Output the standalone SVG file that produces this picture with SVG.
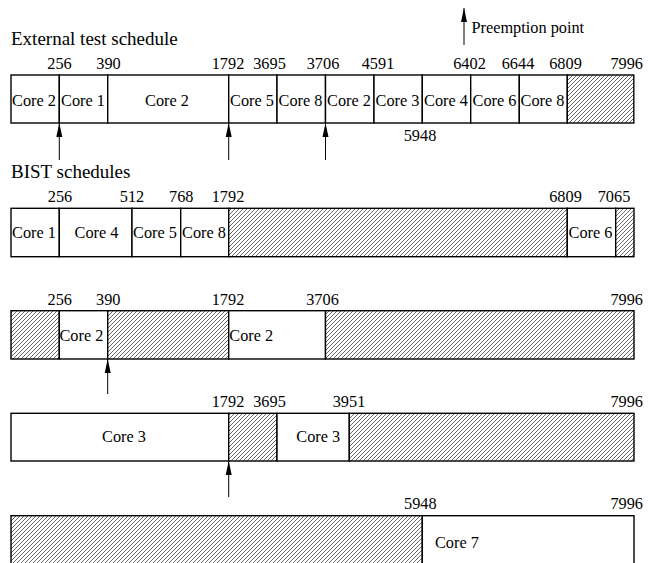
<svg xmlns="http://www.w3.org/2000/svg" width="650" height="563" viewBox="0 0 650 563" font-family="Liberation Serif, Times New Roman, DejaVu Serif, serif">
<style>
text{fill:#000}
.lbl{font-size:16.3px}
.num{font-size:16.3px;text-anchor:middle}
.core{font-size:16.3px;text-anchor:middle}
.head{font-size:19px}
.seg{fill:#fff;stroke:#000;stroke-width:1.4}
.hatch{fill:url(#hp);stroke:#000;stroke-width:1.4}
.arr{stroke:#000;stroke-width:1;fill:none;marker-end:url(#ah)}
</style>
<defs>
<pattern id="hp" patternUnits="userSpaceOnUse" width="4" height="4">
<rect width="4" height="4" fill="#fff"/>
<path d="M-1,1 L1,-1 M0,4 L4,0 M3,5 L5,3" stroke="#444" stroke-width="0.8"/>
</pattern>
<marker id="ah" markerUnits="userSpaceOnUse" markerWidth="14" markerHeight="8" viewBox="0 0 14 8" refX="14" refY="4" orient="auto">
<path d="M0,1 L14,4 L0,7 z" fill="#000"/>
</marker>
</defs>

<g id="legend">
<line class="arr" x1="464" y1="45" x2="464" y2="8"/>
<text class="lbl" x="471.5" y="32.5">Preemption point</text>
</g>

<g id="external">
<text class="head" x="11" y="45">External test schedule</text>
<g id="ext-nums">
<text class="num" x="59.5" y="69">256</text>
<text class="num" x="108.5" y="69">390</text>
<text class="num" x="228" y="69">1792</text>
<text class="num" x="269.5" y="69">3695</text>
<text class="num" x="323" y="69">3706</text>
<text class="num" x="378" y="69">4591</text>
<text class="num" x="469.5" y="69">6402</text>
<text class="num" x="518" y="69">6644</text>
<text class="num" x="565.5" y="69">6809</text>
<text class="num" x="626.7" y="69">7996</text>
<text class="num" x="420" y="141">5948</text>
</g>
<g id="e1"><rect class="seg" x="11" y="75" width="48.3" height="48"/><text class="core" x="34" y="105.5">Core 2</text></g>
<g id="e2"><rect class="seg" x="59.3" y="75" width="48.4" height="48"/><text class="core" x="83" y="105.5">Core 1</text></g>
<g id="e3"><rect class="seg" x="107.7" y="75" width="121" height="48"/><text class="core" x="167" y="105.5">Core 2</text></g>
<g id="e4"><rect class="seg" x="228.7" y="75" width="48.3" height="48"/><text class="core" x="252" y="105.5">Core 5</text></g>
<g id="e5"><rect class="seg" x="277" y="75" width="48.5" height="48"/><text class="core" x="300.5" y="105.5">Core 8</text></g>
<g id="e6"><rect class="seg" x="325.5" y="75" width="48.5" height="48"/><text class="core" x="349" y="105.5">Core 2</text></g>
<g id="e7"><rect class="seg" x="374" y="75" width="48.3" height="48"/><text class="core" x="397.5" y="105.5">Core 3</text></g>
<g id="e8"><rect class="seg" x="422.3" y="75" width="48.4" height="48"/><text class="core" x="446" y="105.5">Core 4</text></g>
<g id="e9"><rect class="seg" x="470.7" y="75" width="48.6" height="48"/><text class="core" x="494.5" y="105.5">Core 6</text></g>
<g id="e10"><rect class="seg" x="519.3" y="75" width="48" height="48"/><text class="core" x="542.5" y="105.5">Core 8</text></g>
<g id="e11"><rect class="hatch" x="567.3" y="75" width="66.5" height="48"/></g>
</g>

<g id="bist1">
<text class="head" x="11" y="178">BIST schedules</text>
<text class="num" x="60" y="201.5">256</text>
<text class="num" x="132" y="201.5">512</text>
<text class="num" x="181.3" y="201.5">768</text>
<text class="num" x="228" y="201.5">1792</text>
<text class="num" x="565.5" y="201.5">6809</text>
<text class="num" x="614" y="201.5">7065</text>
<g id="b1-1"><rect class="seg" x="11" y="208.3" width="48.3" height="48.4"/><text class="core" x="34" y="237.5">Core 1</text></g>
<g id="b1-2"><rect class="seg" x="59.3" y="208.3" width="72.7" height="48.4"/><text class="core" x="96.5" y="237.5">Core 4</text></g>
<g id="b1-3"><rect class="seg" x="132" y="208.3" width="48.7" height="48.4"/><text class="core" x="155" y="237.5">Core 5</text></g>
<g id="b1-4"><rect class="seg" x="180.7" y="208.3" width="48" height="48.4"/><text class="core" x="204" y="237.5">Core 8</text></g>
<g id="b1-5"><rect class="hatch" x="228.7" y="208.3" width="338.6" height="48.4"/></g>
<g id="b1-6"><rect class="seg" x="567.3" y="208.3" width="48.4" height="48.4"/><text class="core" x="590.5" y="237.5">Core 6</text></g>
<g id="b1-7"><rect class="hatch" x="615.7" y="208.3" width="18.3" height="48.4"/></g>
</g>

<g id="bist2">
<text class="num" x="59.7" y="305">256</text>
<text class="num" x="108.3" y="305">390</text>
<text class="num" x="228" y="305">1792</text>
<text class="num" x="322.5" y="305">3706</text>
<text class="num" x="626.7" y="305">7996</text>
<g id="b2-1"><rect class="hatch" x="11" y="310.7" width="48.3" height="48.3"/></g>
<g id="b2-2"><rect class="seg" x="59.3" y="310.7" width="48.4" height="48.3"/><text class="lbl" x="59.5" y="341">Core 2</text></g>
<g id="b2-3"><rect class="hatch" x="107.7" y="310.7" width="121" height="48.3"/></g>
<g id="b2-4"><rect class="seg" x="228.7" y="310.7" width="96.8" height="48.3"/><text class="lbl" x="229.3" y="341">Core 2</text></g>
<g id="b2-5"><rect class="hatch" x="325.5" y="310.7" width="308.5" height="48.3"/></g>
</g>

<g id="bist3">
<text class="num" x="228" y="406.7">1792</text>
<text class="num" x="269.5" y="406.7">3695</text>
<text class="num" x="349" y="406.7">3951</text>
<text class="num" x="626.7" y="406.7">7996</text>
<g id="b3-1"><rect class="seg" x="11" y="413.3" width="217.7" height="47.7"/><text class="core" x="124" y="441.7">Core 3</text></g>
<g id="b3-2"><rect class="hatch" x="228.7" y="413.3" width="48.3" height="47.7"/></g>
<g id="b3-3"><rect class="seg" x="277" y="413.3" width="72.3" height="47.7"/><text class="core" x="318.3" y="441.7">Core 3</text></g>
<g id="b3-4"><rect class="hatch" x="349.3" y="413.3" width="284.7" height="47.7"/></g>
</g>

<g id="bist4">
<text class="num" x="420.3" y="509.3">5948</text>
<text class="num" x="626.7" y="509.3">7996</text>
<g id="b4-1"><rect class="hatch" x="11" y="515.7" width="411.3" height="60"/></g>
<g id="b4-2"><rect class="seg" x="422.3" y="515.7" width="211.7" height="60"/><text class="lbl" x="435" y="547.7">Core 7</text></g>
</g>

<g id="connectors">
<line class="arr" x1="59.3" y1="160" x2="59.3" y2="123"/>
<line class="arr" x1="228.7" y1="160" x2="228.7" y2="123"/>
<line class="arr" x1="325.5" y1="160" x2="325.5" y2="123"/>
<line class="arr" x1="107.7" y1="394" x2="107.7" y2="359"/>
<line class="arr" x1="228.7" y1="497" x2="228.7" y2="461"/>
</g>
</svg>
